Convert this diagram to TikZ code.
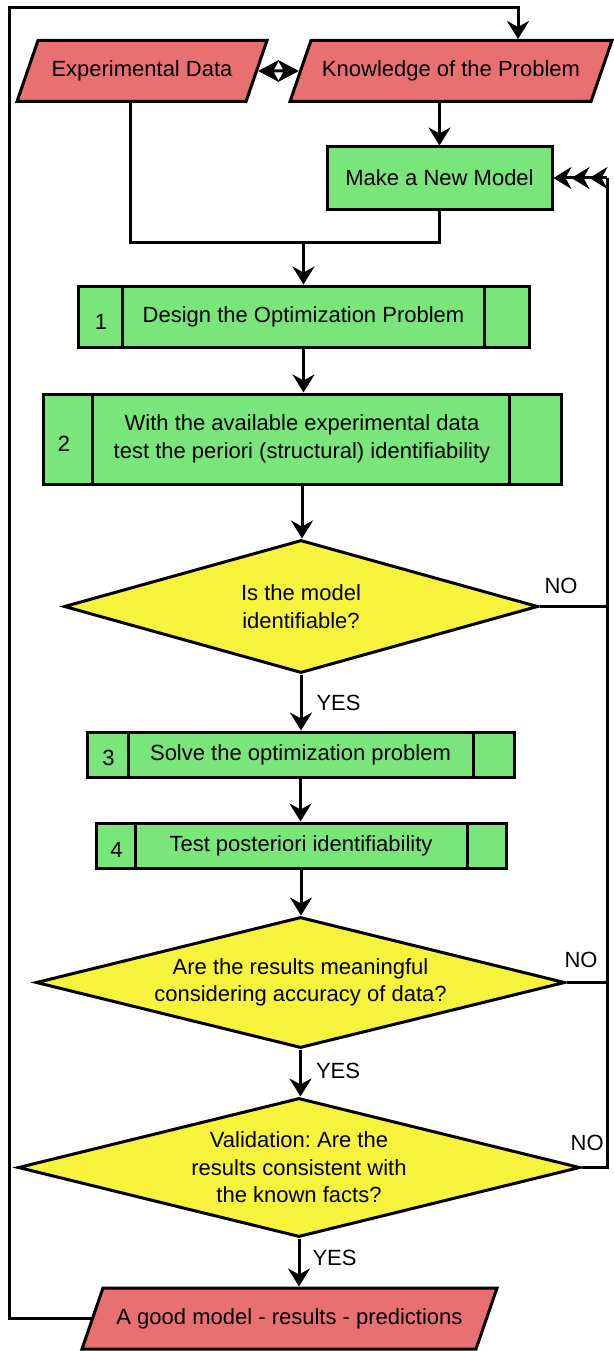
\documentclass[tikz,border=0pt]{standalone}
\usepackage{fontspec}
\setmainfont{Liberation Sans}
\usetikzlibrary{shapes.geometric,arrows.meta,calc}
\definecolor{redf}{RGB}{233,112,112}
\definecolor{greenf}{RGB}{122,229,122}
\definecolor{yellowf}{RGB}{247,242,60}
\frenchspacing
\begin{document}
\begin{tikzpicture}[x=1pt,y=-1pt,font=\fontsize{22}{27.5}\selectfont,
  conn/.style={line width=3pt,draw=black},
  arr/.style={conn,-{Stealth[length=18pt,width=22pt,inset=6pt]}},
  dbl/.style={conn,{Stealth[length=21pt,width=22pt,inset=6pt]}-{Stealth[length=21pt,width=22pt,inset=6pt]}},
  tri/.style={conn,-{Stealth[length=18pt,width=22pt,inset=6pt] Stealth[length=18pt,width=22pt,inset=6pt] Stealth[length=18pt,width=22pt,inset=6pt]}},
  proc/.style={draw,line width=3pt,fill=greenf,rectangle,inner sep=0,align=center},
  io/.style={draw,line width=3pt,fill=redf,trapezium,trapezium left angle=71,trapezium right angle=109,trapezium stretches body,inner xsep=0,inner ysep=20.2pt,minimum height=61pt},
  dec/.style={draw,line width=3pt,fill=yellowf,diamond,aspect=4,inner sep=0,align=center},
  lbl/.style={inner sep=0}]
\useasboundingbox (0,0) rectangle (613,1351);
% nodes
\node[io,minimum width=250pt] (ed) at (142,71) {Experimental Data};
\node[io,minimum width=322pt] (kn) at (451,71) {Knowledge of the Problem};
\node[proc,minimum width=225pt,minimum height=62pt] (mnm) at (439.5,178) {Make a New Model};
\node[proc,minimum width=451pt,minimum height=61pt] (b1) at (303.5,316.5) {Design the Optimization Problem};
\node[proc,minimum width=518pt,minimum height=90pt] (b2) at (302,439) {With the available experimental data\\test the periori (structural) identifiability};
\node[dec,minimum width=474pt,minimum height=133pt] (d1) at (301,606.5) {Is the model\\identifiable?};
\node[proc,minimum width=427pt,minimum height=45pt] (b3) at (300.5,754.5) {Solve the optimization problem};
\node[proc,minimum width=410pt,minimum height=45pt] (b4) at (301,845.5) {Test posteriori identifiability};
\node[dec,minimum width=529pt,minimum height=131pt] (d2) at (300.5,982.5) {Are the results meaningful\\considering accuracy of data?};
\node[dec,minimum width=562pt,minimum height=139pt] (d3) at (299,1167.5) {Validation: Are the\\results consistent with\\the known facts?};
\node[io,minimum width=415pt] (good) at (289.5,1318.5) {A good model - results - predictions};
% dividers
\foreach \b/\l/\r in {b1/46/46,b2/51/53,b3/43/42,b4/41/40}{
  \draw[conn] ([xshift=\l pt]\b.north west) -- ([xshift=\l pt]\b.south west);
  \draw[conn] ([xshift=-\r pt]\b.north east) -- ([xshift=-\r pt]\b.south east);
}
\node[lbl] (n1) at (101,322) {1};
\node[lbl] (n2) at (64,444) {2};
\node[lbl] (n3) at (108.5,757.5) {3};
\node[lbl] (n4) at (116.5,849.5) {4};
% coordinates
\coordinate (edout) at ($(ed.south)+(-12,0)$);
\coordinate (j) at (b1.north |- 0,242);
\coordinate (lt) at (9,8);
\coordinate (knin) at ($(kn.north)+(67,0)$);
\coordinate (rb) at (d3.east -| 607,0);
\coordinate (rt) at (mnm.east -| 607,0);
% connectors
\draw[dbl] (ed.east) -- (kn.west);
\draw[arr] (mnm.north |- kn.south) -- (mnm.north);
\draw[conn] (edout) |- (j);
\draw[conn] (mnm.south) |- (j);
\draw[arr] (j) -- (b1.north);
\draw[arr] (b1.south) -- (b1.south |- b2.north);
\draw[arr] (b2.south) -- (b2.south |- d1.north);
\draw[arr] (d1.south) -- (d1.south |- b3.north) node[lbl,midway,right=14pt] {YES};
\draw[arr] (b3.south) -- (b3.south |- b4.north);
\draw[arr] (b4.south) -- (b4.south |- d2.north);
\draw[arr] (d2.south) -- (d2.south |- d3.north) node[lbl,pos=.45,right=14pt] {YES};
\draw[arr] (d3.south) -- (d3.south |- good.north) node[lbl,pos=.4,right=12pt] {YES};
\draw[arr] (good.west) -| (lt) -| (knin);
\draw[conn] (d1.east) -- (d1.east -| rb) node[lbl,pos=.32,above=11pt] {NO};
\draw[conn] (d2.east) -- (d2.east -| rb) node[lbl,pos=.36,above=13pt] {NO};
\draw[conn] (d3.east) -- (rb) node[lbl,pos=.22,above=15pt] {NO} -- (rt);
\draw[tri] (rt) -- (mnm.east);
\end{tikzpicture}
\end{document}
